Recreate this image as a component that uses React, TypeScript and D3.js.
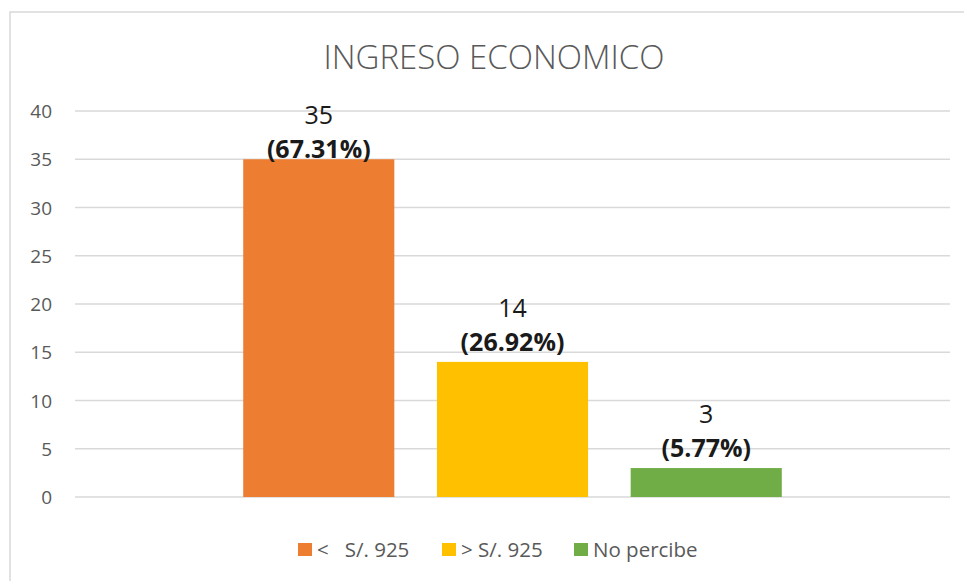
import * as d3 from 'd3';

const categories = ['<   S/. 925', '> S/. 925', 'No percibe'];
const counts = [35, 14, 3];
const percents = ['(67.31%)', '(26.92%)', '(5.77%)'];
const colors = ['#ED7D31', '#FFC000', '#70AD47'];
const yTicks = [0, 5, 10, 15, 20, 25, 30, 35, 40];
const title = 'INGRESO ECONOMICO';

const W = 964;
const H = 581;
const plot = { left: 75, right: 950, top: 111, bottom: 497 };
const font = "'Open Sans', 'Segoe UI', sans-serif";

const App = () => {
    const y = d3.scaleLinear().domain([0, 40]).range([plot.bottom, plot.top]);

    // one category holding the three series side by side
    const x0 = d3.scaleBand().domain(['group']).range([plot.left, plot.right]).padding(0.238);
    const x1 = d3.scaleBand()
        .domain(categories)
        .range([x0('group'), x0('group') + x0.bandwidth()])
        .paddingInner(0.22)
        .paddingOuter(0);

    const legendX = [298, 442, 574];

    return (
        <svg width={W} height={H} style={{ position: 'absolute', left: 0, top: 0, background: '#fff' }}>
            <rect x={10} y={12} width={W + 20} height={H + 20} fill="#fff" stroke="#d9d9d9" strokeWidth={1.5} />

            <text x={494} y={69} textAnchor="middle" fontFamily={font} fontWeight={300} fontSize={33} fill="#595959">
                {title}
            </text>

            {yTicks.map(t => (
                <g key={t}>
                    <line x1={plot.left} x2={plot.right} y1={y(t)} y2={y(t)} stroke="#d9d9d9" strokeWidth={1.5} />
                    <text x={52} y={y(t) + 7} textAnchor="end" fontFamily={font} fontSize={19} fill="#595959">
                        {t}
                    </text>
                </g>
            ))}

            {categories.map((c, i) => {
                const bx = x1(c);
                const top = y(counts[i]);
                const cx = bx + x1.bandwidth() / 2;
                // Excel keeps the label inside the plot area
                const line1 = Math.max(top - 45, 124);
                return (
                    <g key={c}>
                        <rect x={bx} y={top} width={x1.bandwidth()} height={plot.bottom - top} fill={colors[i]} />
                        <text x={cx} y={line1} textAnchor="middle" fontFamily={font} fontSize={25} fill="#1a1a1a">
                            {counts[i]}
                        </text>
                        <text x={cx} y={line1 + 34} textAnchor="middle" fontFamily={font} fontWeight={700} fontSize={25} fill="#1a1a1a">
                            {percents[i]}
                        </text>
                    </g>
                );
            })}

            {categories.map((c, i) => (
                <g key={'lg' + c}>
                    <rect x={legendX[i]} y={543} width={14} height={13} fill={colors[i]} />
                    <text x={legendX[i] + 19} y={557} fontFamily={font} fontSize={20.5} fill="#595959" style={{ whiteSpace: 'pre' }}>
                        {c}
                    </text>
                </g>
            ))}
        </svg>
    );
};

export default App;
